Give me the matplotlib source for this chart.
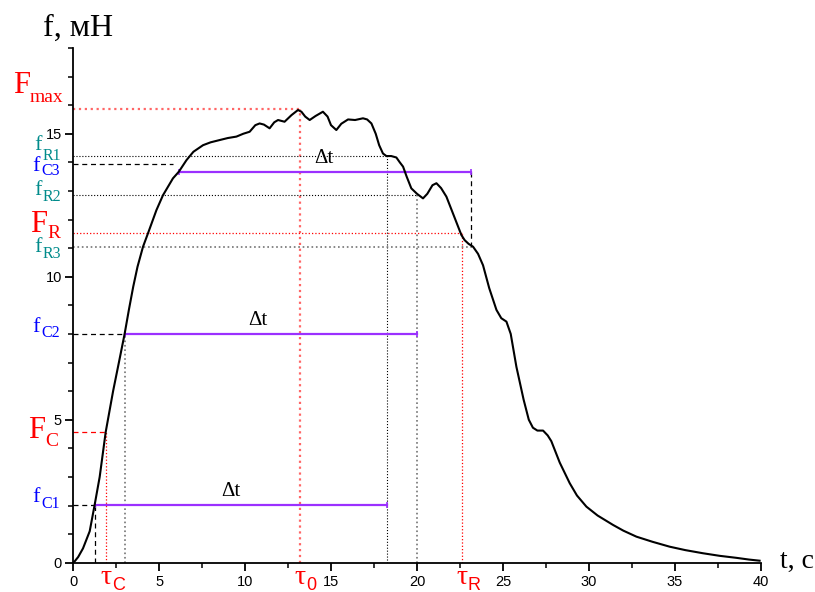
import matplotlib
matplotlib.use('Agg')
import matplotlib.pyplot as plt
from matplotlib.ticker import MultipleLocator

# force curve, t [s] / f [mN]
t_curve = [0, 0.1, 0.3, 0.58, 0.97, 1.26, 1.55, 1.9, 2.33, 2.7, 3.0, 3.25, 3.5, 3.75, 4.07,
           4.36, 4.85, 5.23, 5.81, 6.15, 6.6, 7.0, 7.56, 8.0, 8.53, 9.0, 9.5, 9.9,
           10.27, 10.6, 10.85, 11.1, 11.43, 11.7, 11.92, 12.3, 12.7, 13.08, 13.28,
           13.5, 13.76, 14.1, 14.53, 14.8, 15.0, 15.31, 15.6, 15.99, 16.4, 16.86,
           17.1, 17.35, 17.6, 17.8, 18.02, 18.22, 18.5, 18.8, 19.0, 19.19, 19.4,
           19.67, 20.0, 20.35, 20.6, 20.9, 21.13, 21.4, 21.71, 22.1, 22.58, 22.77,
           23.0, 23.26, 23.55, 23.84, 24.2, 24.62, 24.9, 25.2, 25.45, 25.78, 26.2,
           26.5, 26.74, 27.0, 27.33, 27.6, 27.81, 28.3, 28.88, 29.3, 29.85, 30.5,
           31.4, 32.0, 32.76, 33.7, 34.69, 35.6, 36.63, 37.6, 38.57, 39.3, 39.92]
f_curve = [0, 0.05, 0.2, 0.5, 1.1, 2.03, 3.0, 4.57, 6.0, 7.1, 8.0, 8.85, 9.65, 10.35, 11.05,
           11.52, 12.33, 12.85, 13.44, 13.67, 14.08, 14.37, 14.6, 14.7, 14.78, 14.85,
           14.9, 15.0, 15.07, 15.3, 15.36, 15.32, 15.19, 15.4, 15.48, 15.42, 15.65,
           15.83, 15.77, 15.6, 15.48, 15.62, 15.77, 15.6, 15.3, 15.13, 15.35, 15.5,
           15.48, 15.54, 15.5, 15.36, 15.0, 14.6, 14.31, 14.22, 14.22, 14.17, 14.0,
           13.85, 13.5, 13.09, 12.9, 12.74, 12.9, 13.2, 13.27, 13.1, 12.8, 12.2,
           11.46, 11.28, 11.15, 11.05, 10.8, 10.4, 9.6, 8.84, 8.55, 8.43, 8.0, 6.85,
           5.7, 5.0, 4.72, 4.62, 4.62, 4.45, 4.25, 3.5, 2.78, 2.35, 1.96, 1.65, 1.32,
           1.12, 0.91, 0.73, 0.56, 0.44, 0.33, 0.24, 0.17, 0.11, 0.07]

# characteristic levels
F_max, tau_0 = 15.85, 13.2
F_C, tau_C = 4.57, 1.9
F_R, tau_R = 11.52, 22.6
f_C1, f_C2, f_C3 = 2.03, 8.01, 13.94
f_R1, f_R2, f_R3 = 14.22, 12.85, 11.05
f_C3_line = 13.67       # level where the third dt segment is drawn
t_C1, t_C2, t_C3 = 1.26, 3.0, 6.15
dt = 17.0
dt_label_t = [9.17, 10.74, 14.6]

red = '#ff0000'
blue = '#0000ff'
teal = '#008b8b'
purple = '#9b30ff'
W, H = 815, 592

fig = plt.figure(figsize=(W / 100, H / 100), dpi=100)
ax = fig.add_axes([0.0896, 0.0495, 0.8441, 0.8695])


def px_text(x, yb, s, **kw):
    # text placed by pixel position of its left edge / baseline
    fig.text(x / W, 1 - yb / H, s, ha='left', va='baseline', **kw)


# reference lines
dash = (0, (4, 3))
ax.plot([0, tau_0], [F_max, F_max], color=red, ls=':', lw=1.6, alpha=0.6)
ax.plot([tau_0, tau_0], [0, F_max], color=red, ls=':', lw=1.6, alpha=0.6)
ax.plot([0, t_C1 + dt], [f_R1, f_R1], color='k', ls=':', lw=0.8)
ax.plot([t_C1 + dt, t_C1 + dt], [0, f_R1], color='k', ls=':', lw=0.8)
ax.plot([0, 5.82], [f_C3, f_C3], color='k', ls=dash, lw=0.9)
ax.plot([0, t_C2 + dt], [f_R2, f_R2], color='k', ls=':', lw=0.8)
ax.plot([t_C2 + dt, t_C2 + dt], [0, f_R2], color='0.45', ls=':', lw=1.2)
ax.plot([0, tau_R], [F_R, F_R], color=red, ls=':', lw=0.9)
ax.plot([tau_R, tau_R], [0, F_R], color=red, ls=':', lw=0.9)
ax.plot([0, t_C3 + dt], [f_R3, f_R3], color='0.45', ls=':', lw=1.2)
ax.plot([t_C3 + dt, t_C3 + dt], [f_R3, f_C3_line], color='k', ls=dash, lw=0.9)
ax.plot([0, t_C2], [f_C2, f_C2], color='k', ls=dash, lw=0.9)
ax.plot([t_C2, t_C2], [0, f_C2], color='0.45', ls=':', lw=1.2)
ax.plot([0, tau_C], [F_C, F_C], color=red, ls=dash, lw=0.9)
ax.plot([tau_C, tau_C], [0, F_C], color=red, ls=':', lw=0.9)
ax.plot([0, t_C1], [f_C1, f_C1], color='k', ls=dash, lw=0.9)
ax.plot([t_C1, t_C1], [0, f_C1], color='k', ls=dash, lw=0.9)

# dt segments
for t0, lvl, tl in zip([t_C1, t_C2, t_C3], [f_C1, f_C2, f_C3_line], dt_label_t):
    ax.plot([t0, t0 + dt], [lvl, lvl], color=purple, lw=1.6, marker='|', ms=5, mew=1.2)
    ax.text(tl, lvl + 0.45, 'Δt', family='Liberation Serif', fontsize=15,
            ha='center', va='center')

ax.plot(t_curve, f_curve, color='k', lw=1.5)

ax.set_xlim(0, 40)
ax.set_ylim(0, 18)
ax.spines['top'].set_visible(False)
ax.spines['right'].set_visible(False)
ax.spines['left'].set_linewidth(1.3)
ax.spines['bottom'].set_linewidth(1.3)
ax.xaxis.set_major_locator(MultipleLocator(5))
ax.xaxis.set_minor_locator(MultipleLocator(2.5))
ax.yaxis.set_major_locator(MultipleLocator(5))
ax.yaxis.set_minor_locator(MultipleLocator(1))
ax.tick_params(which='major', direction='out', length=6, width=1.3, labelsize=10.5)
ax.tick_params(which='minor', direction='out', length=3.5, width=1.1)
for lab in ax.get_xticklabels() + ax.get_yticklabels():
    lab.set_family('Liberation Sans')
ax.tick_params(axis='y', pad=2)
ax.tick_params(axis='x', pad=3)

# axis titles
px_text(43, 36, 'f, мН', family='Liberation Serif', fontsize=23)
px_text(780, 568, 't, с', family='Liberation Serif', fontsize=20)

# level labels: (letter, subscript, colour, letter size, sub size, x, baseline, sub x, sub baseline)
serif = 'Liberation Serif'
left_labels = [
    ('F', 'max', red, 22, 14, 13, 93, 30, 102),
    ('F', 'R', red, 22, 14, 30, 232, 47, 238),
    ('F', 'C', red, 22, 14, 28, 438, 45, 446),
    ('f', 'R1', teal, 16, 11.5, 34, 150, 43, 160),
    ('f', 'C3', blue, 16, 11.5, 32, 171, 41, 175),
    ('f', 'R2', teal, 16, 11.5, 34, 195, 43, 201),
    ('f', 'R3', teal, 16, 11.5, 34, 252, 43, 258),
    ('f', 'C2', blue, 16, 11.5, 32, 332, 41, 337),
    ('f', 'C1', blue, 16, 11.5, 32, 502, 41, 508),
]
for main, sub, col, fs, sfs, x, yb, xs, ysb in left_labels:
    px_text(x, yb, main, family=serif, fontsize=fs, color=col)
    px_text(xs, ysb, sub, family=serif, fontsize=sfs, color=col)

# time labels under the x axis
for sub, x in [('C', tau_C), ('0', tau_0), ('R', tau_R)]:
    ax.annotate('τ', xy=(x, 0), xycoords='data', xytext=(0, -21),
                textcoords='offset pixels', ha='center', va='baseline',
                family=serif, fontsize=20, color=red, annotation_clip=False)
    ax.annotate(sub, xy=(x, 0), xycoords='data', xytext=(6, -27),
                textcoords='offset pixels', ha='left', va='baseline',
                family='Liberation Sans', fontsize=13, color=red, annotation_clip=False)

fig.savefig('out.png', dpi=100)
